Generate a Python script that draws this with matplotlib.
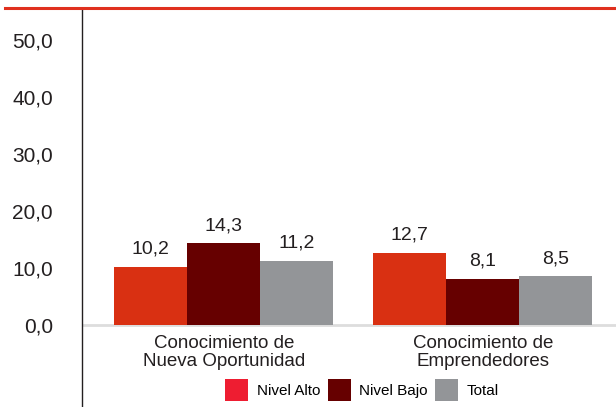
import matplotlib.pyplot as plt
from matplotlib.patches import Patch

categorias = ['Conocimiento de\nNueva Oportunidad', 'Conocimiento de\nEmprendedores']
series = ['Nivel Alto', 'Nivel Bajo', 'Total']
nivel_alto = [10.2, 12.7]
nivel_bajo = [14.3, 8.1]
total = [11.2, 8.5]
yticks = [0, 10, 20, 30, 40, 50]

colores = ['#D93012', '#660000', '#939598']
colores_leyenda = ['#EE1D31', '#660000', '#939598']

plt.rcParams['font.family'] = ['Liberation Sans', 'DejaVu Sans']

fig = plt.figure(figsize=(6.16, 4.07), dpi=100)
ax = fig.add_axes([82 / 616, 0, 1 - 82 / 616, 1 - 8 / 407])

ancho = 0.282
x = range(len(categorias))
for i, (valores, color) in enumerate(zip([nivel_alto, nivel_bajo, total], colores)):
    pos = [c + (i - 1) * ancho for c in x]
    barras = ax.bar(pos, valores, width=ancho, color=color, zorder=2)
    for b, v in zip(barras, valores):
        ax.text(b.get_x() + b.get_width() / 2, v + 1.6, f'{v:.1f}'.replace('.', ','),
                ha='center', va='bottom', fontsize=14, color='#231F20')

ax.set_xlim(-0.548, 1.514)
ax.set_ylim(-14.4, 55.6)
ax.axhline(0, color='#DDDDDD', lw=2, zorder=1)

ax.set_yticks(yticks)
ax.set_yticklabels([f'{t:.1f}'.replace('.', ',') for t in yticks], fontsize=15, color='#231F20')
ax.tick_params(axis='y', length=0, pad=21)
ax.set_xticks([])
for lado in ['top', 'right', 'bottom']:
    ax.spines[lado].set_visible(False)
ax.spines['left'].set_color('#231F20')
ax.spines['left'].set_linewidth(1)

for c, nombre in zip(x, categorias):
    ax.text(c, -1.8, nombre, ha='center', va='top', fontsize=13.5, color='#231F20', linespacing=1.05)

# línea roja superior
fig.add_artist(plt.Line2D([5 / 616, 1], [1 - 8 / 407] * 2, color='#E0301E', lw=2.2))

manejadores = [Patch(facecolor=c, edgecolor='none') for c in colores_leyenda]
fig.legend(manejadores, series, loc='center', bbox_to_anchor=(362 / 616, 1 - 390 / 407),
           ncol=3, frameon=False, fontsize=11, handlelength=1.5, handleheight=1.8,
           columnspacing=0.5, handletextpad=0.55, borderpad=0)

fig.savefig('out.png', dpi=100)
